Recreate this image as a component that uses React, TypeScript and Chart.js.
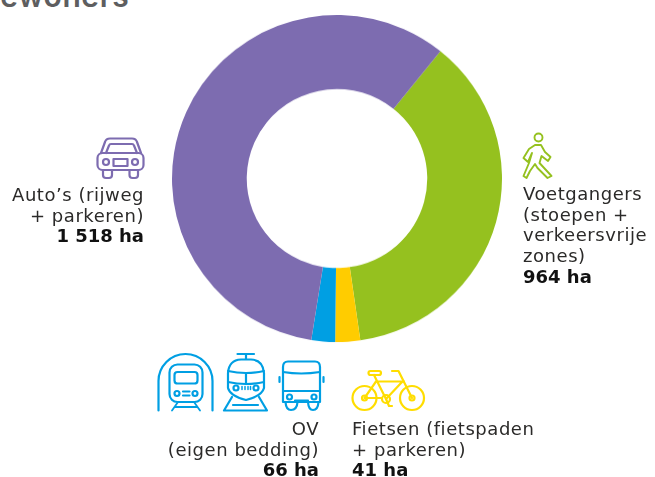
import React, { useEffect, useRef } from "react";
import { Chart, registerables } from "chart.js";

Chart.register(...registerables);

const categories = ["Voetgangers", "Fietsen", "OV", "Auto’s"];
// Slice sizes as they are drawn in the picture (the labels state the published figures).
const drawnValues = [957, 63, 60, 1509];
const colors = ["#95c11f", "#ffcc00", "#009fe3", "#7d6cb0"];

const titleFragment = "bewoners";
const carLabel = ["Auto’s (rijweg", "+ parkeren)"];
const carValue = "1 518 ha";
const walkLabel = ["Voetgangers", "(stoepen +", "verkeersvrije", "zones)"];
const walkValue = "964 ha";
const ovLabel = ["OV", "(eigen bedding)"];
const ovValue = "66 ha";
const bikeLabel = ["Fietsen (fietspaden", "+ parkeren)"];
const bikeValue = "41 ha";

const FONT = "'DejaVu Sans', sans-serif";

function Label(props: { lines: string[]; bold: string; x: number; y: number; right?: boolean }) {
  const base: React.CSSProperties = {
    position: "absolute",
    top: props.y,
    fontFamily: FONT,
    fontSize: 18,
    lineHeight: "20.7px",
    color: "#2b2a29",
    whiteSpace: "nowrap",
    letterSpacing: "0.55px",
    textAlign: props.right ? "right" : "left",
  };
  if (props.right) base.right = 655 - props.x;
  else base.left = props.x;
  return (
    <div style={base}>
      {props.lines.map((l) => (
        <div key={l}>{l}</div>
      ))}
      <div style={{ fontWeight: 700, color: "#111", letterSpacing: 0 }}>{props.bold}</div>
    </div>
  );
}

function Icons() {
  const s = { fill: "none", strokeLinecap: "round", strokeLinejoin: "round" } as const;
  return (
    <svg width={655} height={477} style={{ position: "absolute", left: 0, top: 0 }}>
      <g {...s} stroke="#7d6cb0" strokeWidth={2.2}>
        <path d="M101 153 L105 142 Q106 138.5 110 138.5 H132 Q136 138.5 137 142 L141 153" />
        <path d="M106 153 L109 145.5 Q109.5 144 111 144 H132 Q133.5 144 134 145.5 L137 153" />
        <rect x={97.5} y={153} width={46} height={17} rx={5} />
        <path d="M103 170 V175 Q103 178 106 178 H109 Q112 178 112 175 V170" />
        <path d="M129.5 170 V175 Q129.5 178 132.5 178 H135 Q138 178 138 175 V170" />
        <circle cx={106} cy={162} r={3} />
        <circle cx={135} cy={162} r={3} />
        <rect x={113.5} y={159} width={14} height={7} />
      </g>
      <g {...s} stroke="#95c11f" strokeWidth={1.9}>
        <circle cx={538.5} cy={137.5} r={4} />
        <path d="M535 145 H541 L545 152 L550.5 157 L548 161 L541.5 156 L539.5 163 L551.5 176 L547.5 178 L537.5 168 L535 164 L530 171 L526.5 178 L523.5 176 L529 163 L532 153 L528 162 L523.5 158 L529 149 Z" />
      </g>
      <g {...s} stroke="#009fe3" strokeWidth={2.2}>
        <path d="M158.5 410.5 V381 A27 27 0 0 1 212.5 381 V410.5" />
        <rect x={169.5} y={364.5} width={33} height={37.5} rx={8} />
        <rect x={174.5} y={372} width={23} height={11.5} rx={3} />
        <circle cx={177} cy={393.5} r={2.5} />
        <circle cx={195} cy={393.5} r={2.5} />
        <path d="M183 391.5 H189.5 M183 395.5 H189.5" />
        <path d="M178 402 L172 410.5 M194 402 L200 410.5 M175 407 H197" strokeWidth={1.8} />
        <path d="M237.5 354 H254 M246 354 V359" />
        <path d="M228 388 V373 Q229 360 241 359.5 H251 Q263 360 264 373 V388 Q262 396 246 400 Q230 396 228 388 Z" />
        <path d="M228 371 Q246 375 264 371 M228 382 Q246 386 264 382 M246 373 V384" />
        <circle cx={236} cy={388} r={2.5} />
        <circle cx={256} cy={388} r={2.5} />
        <path d="M242 386.5 V389.5 M245 386.5 V389.5 M248 386.5 V389.5 M250.5 386.5 V389.5" strokeWidth={1.5} />
        <path d="M232 397 L224 410.5 H267 L259 397 M233 405 H258" />
        <path d="M283 402 V367 Q283 361.5 288 361.5 H315 Q320 361.5 320 367 V402 Z" />
        <path d="M283 372 Q301 375 320 372 M283 391 H320 M279.5 377 V382 M323.5 377 V382" />
        <circle cx={289.5} cy={397} r={2.5} />
        <circle cx={314} cy={397} r={2.5} />
        <path d="M295 400.5 H308" />
        <path d="M285.5 402 Q286 410 291 410 Q297 410 297.5 402 M308 402 Q308.5 410 313 410 Q318 410 318.5 402" />
      </g>
      <g {...s} stroke="#ffdd00" strokeWidth={2.2}>
        <circle cx={364.5} cy={398} r={12} />
        <circle cx={412} cy={398} r={12} />
        <circle cx={364.5} cy={398} r={2.5} />
        <circle cx={412} cy={398} r={2.5} />
        <circle cx={386} cy={399} r={4} />
        <rect x={368.5} y={371} width={12.5} height={4} rx={2} />
        <path d="M374 375 L386 399 M376 381.5 H404 M402 382 L386 399 M364.5 398 H382 M364.5 398 L376 381.5" />
        <path d="M392 371 H398.5 L412 398 M386 399 L389 406 H392" />
      </g>
    </svg>
  );
}

export default function App() {
  const ref = useRef<HTMLCanvasElement | null>(null);
  useEffect(() => {
    if (!ref.current) return;
    const chart = new Chart(ref.current, {
      type: "doughnut",
      data: {
        labels: categories,
        datasets: [{ data: drawnValues, backgroundColor: colors, borderWidth: 0 }],
      },
      options: {
        responsive: false,
        animation: false,
        cutout: "54.7%",
        rotation: 38.8,
        layout: { padding: { left: 2, right: 0, top: 1, bottom: 1 } },
        plugins: { legend: { display: false }, tooltip: { enabled: false } },
      },
    });
    return () => chart.destroy();
  }, []);
  return (
    <div style={{ position: "fixed", left: 0, top: 0, width: 655, height: 477, overflow: "hidden", background: "#fff" }}>
      <canvas
        ref={ref}
        width={332}
        height={332}
        style={{ position: "absolute", left: 170, top: 14.3, width: 332, height: 328.4 }}
      />
      <div
        style={{
          position: "absolute",
          left: -19,
          top: -20,
          fontFamily: "Inter, sans-serif",
          fontWeight: 600,
          fontSize: 30,
          lineHeight: "32px",
          letterSpacing: "0.6px",
          color: "#5e5e60",
          whiteSpace: "nowrap",
        }}
      >
        {titleFragment}
      </div>
      <Icons />
      <Label lines={carLabel} bold={carValue} x={144} y={185} right />
      <Label lines={walkLabel} bold={walkValue} x={523} y={184} />
      <Label lines={ovLabel} bold={ovValue} x={319} y={419} right />
      <Label lines={bikeLabel} bold={bikeValue} x={352} y={419} />
    </div>
  );
}
